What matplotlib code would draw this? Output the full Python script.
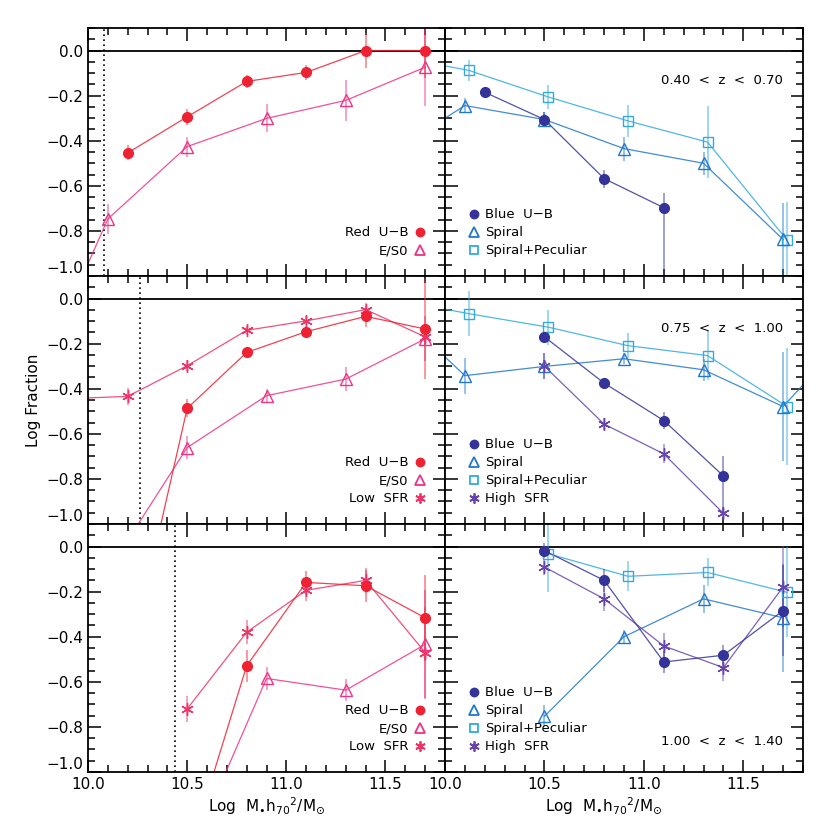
import matplotlib
matplotlib.use("Agg")
import matplotlib.pyplot as plt
from matplotlib.lines import Line2D
from matplotlib.ticker import MultipleLocator, FixedLocator, FixedFormatter
import numpy as np

# ---------------- data ----------------
# Row 1 : 0.40 < z < 0.70
r1_red_x = [10.2, 10.5, 10.8, 11.1, 11.4, 11.7]
r1_red_y = [-0.454, -0.294, -0.137, -0.097, 0.0, 0.0]
r1_red_e = [0.033, 0.035, 0.03, 0.035, 0.077, 0.12]
r1_es0_x = [9.7, 10.1, 10.5, 10.9, 11.3, 11.7]
r1_es0_y = [-1.54, -0.747, -0.426, -0.301, -0.221, -0.074]
r1_es0_e = [0.0, 0.066, 0.044, 0.062, 0.09, 0.17]

r1_blue_x = [10.2, 10.5, 10.8, 11.1]
r1_blue_y = [-0.185, -0.306, -0.568, -0.697]
r1_blue_elo = [0.025, 0.035, 0.04, 0.5]
r1_blue_ehi = [0.025, 0.035, 0.04, 0.065]
r1_sp_x = [9.7, 10.1, 10.5, 10.9, 11.3, 11.7]
r1_sp_y = [-0.468, -0.244, -0.306, -0.435, -0.50, -0.838]
r1_sp_e = [0.0, 0.035, 0.035, 0.053, 0.05, 0.16]
r1_spp_x = [9.72, 10.12, 10.52, 10.92, 11.32, 11.72]
r1_spp_y = [-0.022, -0.088, -0.206, -0.312, -0.406, -0.841]
r1_spp_e = [0.0, 0.048, 0.055, 0.07, 0.16, 0.17]

# Row 2 : 0.75 < z < 1.00
r2_red_x = [10.2, 10.5, 10.8, 11.1, 11.4, 11.7]
r2_red_y = [-1.65, -0.487, -0.239, -0.147, -0.079, -0.135]
r2_red_e = [0.0, 0.04, 0.02, 0.025, 0.048, 0.22]
r2_es0_x = [10.1, 10.5, 10.9, 11.3, 11.7]
r2_es0_y = [-1.21, -0.661, -0.431, -0.357, -0.179]
r2_es0_e = [0.0, 0.05, 0.03, 0.052, 0.1]
r2_low_x = [9.9, 10.2, 10.5, 10.8, 11.1, 11.4, 11.7]
r2_low_y = [-0.444, -0.434, -0.298, -0.141, -0.099, -0.049, -0.170]
r2_low_e = [0.0, 0.037, 0.025, 0.02, 0.02, 0.03, 0.04]

r2_blue_x = [10.5, 10.8, 11.1, 11.4]
r2_blue_y = [-0.170, -0.375, -0.541, -0.787]
r2_blue_elo = [0.02, 0.02, 0.037, 0.166]
r2_blue_ehi = [0.02, 0.02, 0.037, 0.089]
r2_high_x = [10.5, 10.8, 11.1, 11.4]
r2_high_y = [-0.300, -0.557, -0.689, -0.953]
r2_high_e = [0.058, 0.027, 0.042, 0.03]
r2_sp_x = [9.7, 10.1, 10.5, 10.9, 11.3, 11.7, 12.1]
r2_sp_y = [-0.01, -0.342, -0.301, -0.267, -0.316, -0.479, -0.095]
r2_sp_e = [0.0, 0.08, 0.058, 0.025, 0.05, 0.24, 0.0]
r2_spp_x = [9.72, 10.12, 10.52, 10.92, 11.32, 11.72]
r2_spp_y = [0.0, -0.067, -0.127, -0.209, -0.253, -0.479]
r2_spp_e = [0.0, 0.10, 0.078, 0.054, 0.11, 0.26]

# Row 3 : 1.00 < z < 1.40
r3_red_x = [10.5, 10.8, 11.1, 11.4, 11.7]
r3_red_y = [-1.387, -0.529, -0.159, -0.174, -0.316]
r3_red_e = [0.0, 0.072, 0.05, 0.072, 0.19]
r3_es0_x = [10.5, 10.9, 11.3, 11.7]
r3_es0_y = [-1.395, -0.585, -0.637, -0.434]
r3_es0_e = [0.0, 0.05, 0.05, 0.24]
r3_low_x = [10.5, 10.8, 11.1, 11.4, 11.7]
r3_low_y = [-0.72, -0.38, -0.194, -0.150, -0.47]
r3_low_e = [0.057, 0.054, 0.048, 0.055, 0.2]

r3_blue_x = [10.5, 10.8, 11.1, 11.4, 11.7]
r3_blue_y = [-0.018, -0.150, -0.512, -0.482, -0.284]
r3_blue_e = [0.033, 0.05, 0.05, 0.045, 0.2]
r3_high_x = [10.5, 10.8, 11.1, 11.4, 11.7]
r3_high_y = [-0.091, -0.232, -0.441, -0.537, -0.179]
r3_high_e = [0.035, 0.055, 0.057, 0.06, 0.18]
r3_sp_x = [10.5, 10.9, 11.3, 11.7]
r3_sp_y = [-0.753, -0.400, -0.232, -0.316]
r3_sp_e = [0.048, 0.03, 0.062, 0.24]
r3_spp_x = [10.52, 10.92, 11.32, 11.72]
r3_spp_y = [-0.032, -0.132, -0.115, -0.203]
r3_spp_e = [0.17, 0.066, 0.062, 0.2]

mass_limits = [10.08, 10.26, 10.44]
z_labels = ["0.40  <  z  <  0.70", "0.75  <  z  <  1.00", "1.00  <  z  <  1.40"]
yticks = [-1.0, -0.8, -0.6, -0.4, -0.2, 0.0]
ytick_labels = ["\u22121.0", "\u22120.8", "\u22120.6", "\u22120.4", "\u22120.2", "0.0"]
xticks = [10.0, 10.5, 11.0, 11.5]
xtick_labels = ["10.0", "10.5", "11.0", "11.5"]

# ---------------- style ----------------
C_RED = "#EE2233"
C_ES0 = "#EE3388"
C_LOW = "#EE3366"
C_BLUE = "#333399"
C_SP = "#2277CC"
C_SPP = "#33AADD"
C_HIGH = "#6644AA"

STYLE = {
    "red": dict(color=C_RED, marker="o", ms=7, filled=True),
    "es0": dict(color=C_ES0, marker="^", ms=8, filled=False),
    "low": dict(color=C_LOW, marker=(6, 2, 0), ms=9, filled=False),
    "blue": dict(color=C_BLUE, marker="o", ms=7, filled=True),
    "sp": dict(color=C_SP, marker="^", ms=8, filled=False),
    "spp": dict(color=C_SPP, marker="s", ms=7.5, filled=False),
    "high": dict(color=C_HIGH, marker=(6, 2, 0), ms=9, filled=False),
}

plt.rcParams["font.family"] = ["DejaVu Sans"]

fig = plt.figure(figsize=(8.3, 8.3), dpi=100)
W = H = 830.0
left_px, mid_px, right_px = 88, 445, 803
top_px, bot_px = 28, 772
ph = (bot_px - top_px) / 3.0


def series(ax, x, y, e, key):
    st = STYLE[key]
    c = st["color"]
    ax.plot(x, y, color=c, lw=0.9, alpha=0.85, zorder=2)
    ax.errorbar(x, y, yerr=e, fmt="none", ecolor=c, elinewidth=1.3,
                alpha=0.5, capsize=0, zorder=2)
    ax.plot(x, y, ls="none", marker=st["marker"], ms=st["ms"],
            mfc=c if st["filled"] else "none", mec=c, mew=1.0, zorder=3)


def handle(key, label):
    st = STYLE[key]
    c = st["color"]
    return Line2D([], [], ls="none", marker=st["marker"], ms=st["ms"] * 0.82,
                  mfc=c if st["filled"] else "none", mec=c, mew=1.3, label=label)


axes = []
for r in range(3):
    row = []
    for cidx in range(2):
        x0 = left_px if cidx == 0 else mid_px
        x1 = mid_px if cidx == 0 else right_px
        y1 = top_px + r * ph
        ax = fig.add_axes([x0 / W, 1 - (y1 + ph) / H, (x1 - x0) / W, ph / H])
        ax.set_xlim(10.0, 11.8)
        ax.set_ylim(-1.0, 0.1)
        ax.axhline(0.0, color="black", lw=1.3, zorder=1)
        ax.xaxis.set_major_locator(FixedLocator(xticks))
        ax.xaxis.set_minor_locator(MultipleLocator(0.1))
        ax.yaxis.set_major_locator(FixedLocator(yticks))
        ax.yaxis.set_minor_locator(MultipleLocator(0.05))
        ax.tick_params(which="both", direction="in", top=True, right=True,
                       labelsize=11, width=1.1)
        ax.tick_params(which="major", length=9)
        ax.tick_params(which="minor", length=5)
        for s in ax.spines.values():
            s.set_linewidth(1.3)
        if cidx == 0:
            ax.yaxis.set_major_formatter(FixedFormatter(ytick_labels))
            ax.axvline(mass_limits[r], color="black", ls=(0, (1, 2)), lw=1.2, zorder=1)
        else:
            ax.tick_params(labelleft=False)
        if r == 2:
            ax.xaxis.set_major_formatter(FixedFormatter(xtick_labels))
        else:
            ax.tick_params(labelbottom=False)
        row.append(ax)
    axes.append(row)

# Row 1
a = axes[0][0]
series(a, r1_es0_x, r1_es0_y, r1_es0_e, "es0")
series(a, r1_red_x, r1_red_y, r1_red_e, "red")
a = axes[0][1]
series(a, r1_spp_x, r1_spp_y, r1_spp_e, "spp")
series(a, r1_sp_x, r1_sp_y, r1_sp_e, "sp")
series(a, r1_blue_x, r1_blue_y, [r1_blue_elo, r1_blue_ehi], "blue")

# Row 2
a = axes[1][0]
series(a, r2_es0_x, r2_es0_y, r2_es0_e, "es0")
series(a, r2_low_x, r2_low_y, r2_low_e, "low")
series(a, r2_red_x, r2_red_y, r2_red_e, "red")
a = axes[1][1]
series(a, r2_spp_x, r2_spp_y, r2_spp_e, "spp")
series(a, r2_sp_x, r2_sp_y, r2_sp_e, "sp")
series(a, r2_high_x, r2_high_y, r2_high_e, "high")
series(a, r2_blue_x, r2_blue_y, [r2_blue_elo, r2_blue_ehi], "blue")

# Row 3
a = axes[2][0]
series(a, r3_es0_x, r3_es0_y, r3_es0_e, "es0")
series(a, r3_low_x, r3_low_y, r3_low_e, "low")
series(a, r3_red_x, r3_red_y, r3_red_e, "red")
a = axes[2][1]
series(a, r3_spp_x, r3_spp_y, r3_spp_e, "spp")
series(a, r3_sp_x, r3_sp_y, r3_sp_e, "sp")
series(a, r3_high_x, r3_high_y, r3_high_e, "high")
series(a, r3_blue_x, r3_blue_y, r3_blue_e, "blue")

# legends
left_sets = [
    [("red", "Red  U\u2212B"), ("es0", "E/S0")],
    [("red", "Red  U\u2212B"), ("es0", "E/S0"), ("low", "Low  SFR")],
    [("red", "Red  U\u2212B"), ("es0", "E/S0"), ("low", "Low  SFR")],
]
right_sets = [
    [("blue", "Blue  U\u2212B"), ("sp", "Spiral"), ("spp", "Spiral+Peculiar")],
    [("blue", "Blue  U\u2212B"), ("sp", "Spiral"), ("spp", "Spiral+Peculiar"), ("high", "High  SFR")],
    [("blue", "Blue  U\u2212B"), ("sp", "Spiral"), ("spp", "Spiral+Peculiar"), ("high", "High  SFR")],
]
for r in range(3):
    hl = [handle(k, l) for k, l in left_sets[r]]
    axes[r][0].legend(handles=hl, loc="lower right", bbox_to_anchor=(0.945, 0.075),
                      frameon=False, markerfirst=False, fontsize=9.5,
                      handlelength=0.8, handletextpad=0.5, labelspacing=0.38,
                      borderpad=0, borderaxespad=0)
    hr = [handle(k, l) for k, l in right_sets[r]]
    axes[r][1].legend(handles=hr, loc="lower left", bbox_to_anchor=(0.065, 0.075),
                      frameon=False, fontsize=9.5,
                      handlelength=0.8, handletextpad=0.5, labelspacing=0.38,
                      borderpad=0, borderaxespad=0)

axes[0][1].text(0.944, 0.79, z_labels[0], transform=axes[0][1].transAxes,
                ha="right", va="center", fontsize=9.5)
axes[1][1].text(0.944, 0.79, z_labels[1], transform=axes[1][1].transAxes,
                ha="right", va="center", fontsize=9.5)
axes[2][1].text(0.944, 0.121, z_labels[2], transform=axes[2][1].transAxes,
                ha="right", va="center", fontsize=9.5)

# shift the -1.0 labels up a bit like the original
for r in range(3):
    t = axes[r][0].yaxis.get_major_ticks()[0]
    t.label1.set_verticalalignment("bottom")

fig.text(33 / W, 1 - 400 / H, "Log Fraction", rotation=90, ha="center",
         va="center", fontsize=11)
xlab = r"Log  M$_{\bullet}$h$_{70}$$^{2}$/M$_{\odot}$"
fig.text(267 / W, 1 - 806 / H, xlab, ha="center", va="center", fontsize=11)
fig.text(604 / W, 1 - 806 / H, xlab, ha="center", va="center", fontsize=11)

fig.savefig("out.png", dpi=100)
